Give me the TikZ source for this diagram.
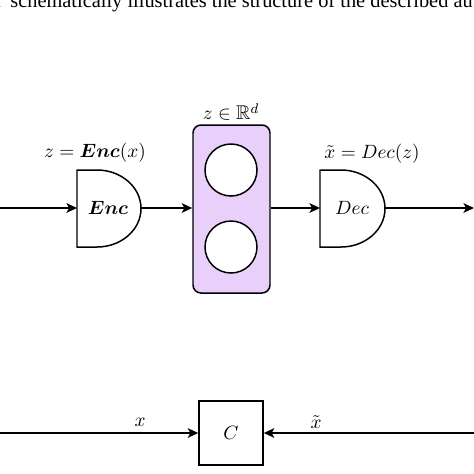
\documentclass[tikz,border=0pt]{standalone}
\usepackage{amssymb}
\usepackage{bm}
\usepackage{fontspec}
\newfontfamily\capfont{Liberation Serif}
\usetikzlibrary{arrows.meta}
\definecolor{latentfill}{RGB}{232,208,250}
\definecolor{linkblue}{RGB}{120,160,220}
\tikzset{
  conn/.style={line width=0.85pt,-{Stealth[length=6pt,width=5.5pt,inset=1.5pt]}},
  gateshape/.style={draw,line width=0.85pt,fill=white},
  lbl/.style={font=\fontsize{11.3}{13}\selectfont,inner sep=0pt},
  cbox/.style={draw,line width=0.85pt,minimum width=64*0.02cm,minimum height=64*0.02cm,inner sep=0pt,font=\fontsize{11.3}{13}\selectfont},
}
\begin{document}
\begin{tikzpicture}[x=0.02cm,y=-0.02cm]
\useasboundingbox (0,0) rectangle (474,474);
\clip (0,0) rectangle (474,474);
% cut-off caption line at the top
\node[anchor=base east,inner sep=0pt,text=linkblue,font=\capfont\fontsize{11.6}{13}\selectfont] (capnum) at (3,7.5) {1};
\node[anchor=base west,inner sep=0pt,font=\capfont\fontsize{11.6}{13}\selectfont] (caption) at (10,7.5) {schematically illustrates the structure of the described autoencoder};
% encoder gate
\draw[gateshape] (77,170) -- (97,170) .. controls (121,170) and (141,187) .. (141,208.5) .. controls (141,230) and (121,247) .. (97,247) -- (77,247) -- cycle;
\coordinate (encL) at (77,208);
\coordinate (encR) at (141,208);
\node[lbl] (enc) at (108,208) {$\bm{Enc}$};
\node[lbl] (enclbl) at (95,153) {$z=\bm{Enc}(x)$};
% latent box
\node[draw,line width=0.85pt,fill=latentfill,rounded corners=8*0.02cm,minimum width=77*0.02cm,minimum height=168*0.02cm,inner sep=0pt] (lat) at (231.5,209) {};
\node[draw,line width=0.85pt,fill=white,circle,minimum size=52*0.02cm,inner sep=0pt] (c1) at (231,170) {};
\node[draw,line width=0.85pt,fill=white,circle,minimum size=52*0.02cm,inner sep=0pt] (c2) at (231,247) {};
\node[lbl] (latlbl) at (231,112) {$z\in\mathbb{R}^d$};
% decoder gate
\draw[gateshape] (320,170) -- (341,170) .. controls (365,170) and (385,187) .. (385,208.5) .. controls (385,230) and (365,247) .. (341,247) -- (320,247) -- cycle;
\coordinate (decL) at (320,208);
\coordinate (decR) at (385,208);
\node[lbl] (dec) at (352,208) {$Dec$};
\node[lbl] (declbl) at (372,154) {$\tilde{x}=Dec(z)$};
% connectors
\coordinate (inL) at (0,208);
\coordinate (outR) at (474,208);
\draw[conn] (inL) -- (encL);
\draw[conn] (encR) -- (lat.west |- encR);
\draw[conn] (lat.east |- decL) -- (decL);
\draw[conn] (decR) -- (outR);
% comparison box
\node[cbox] (C) at (231,433) {$C$};
\coordinate (xin) at (0,433);
\coordinate (xtin) at (474,433);
\draw[conn] (xin) -- (C.west);
\draw[conn] (xtin) -- (C.east);
\node[lbl] (xl) at (140,422) {$x$};
\node[lbl] (xtl) at (316,422) {$\tilde{x}$};
\end{tikzpicture}
\end{document}
